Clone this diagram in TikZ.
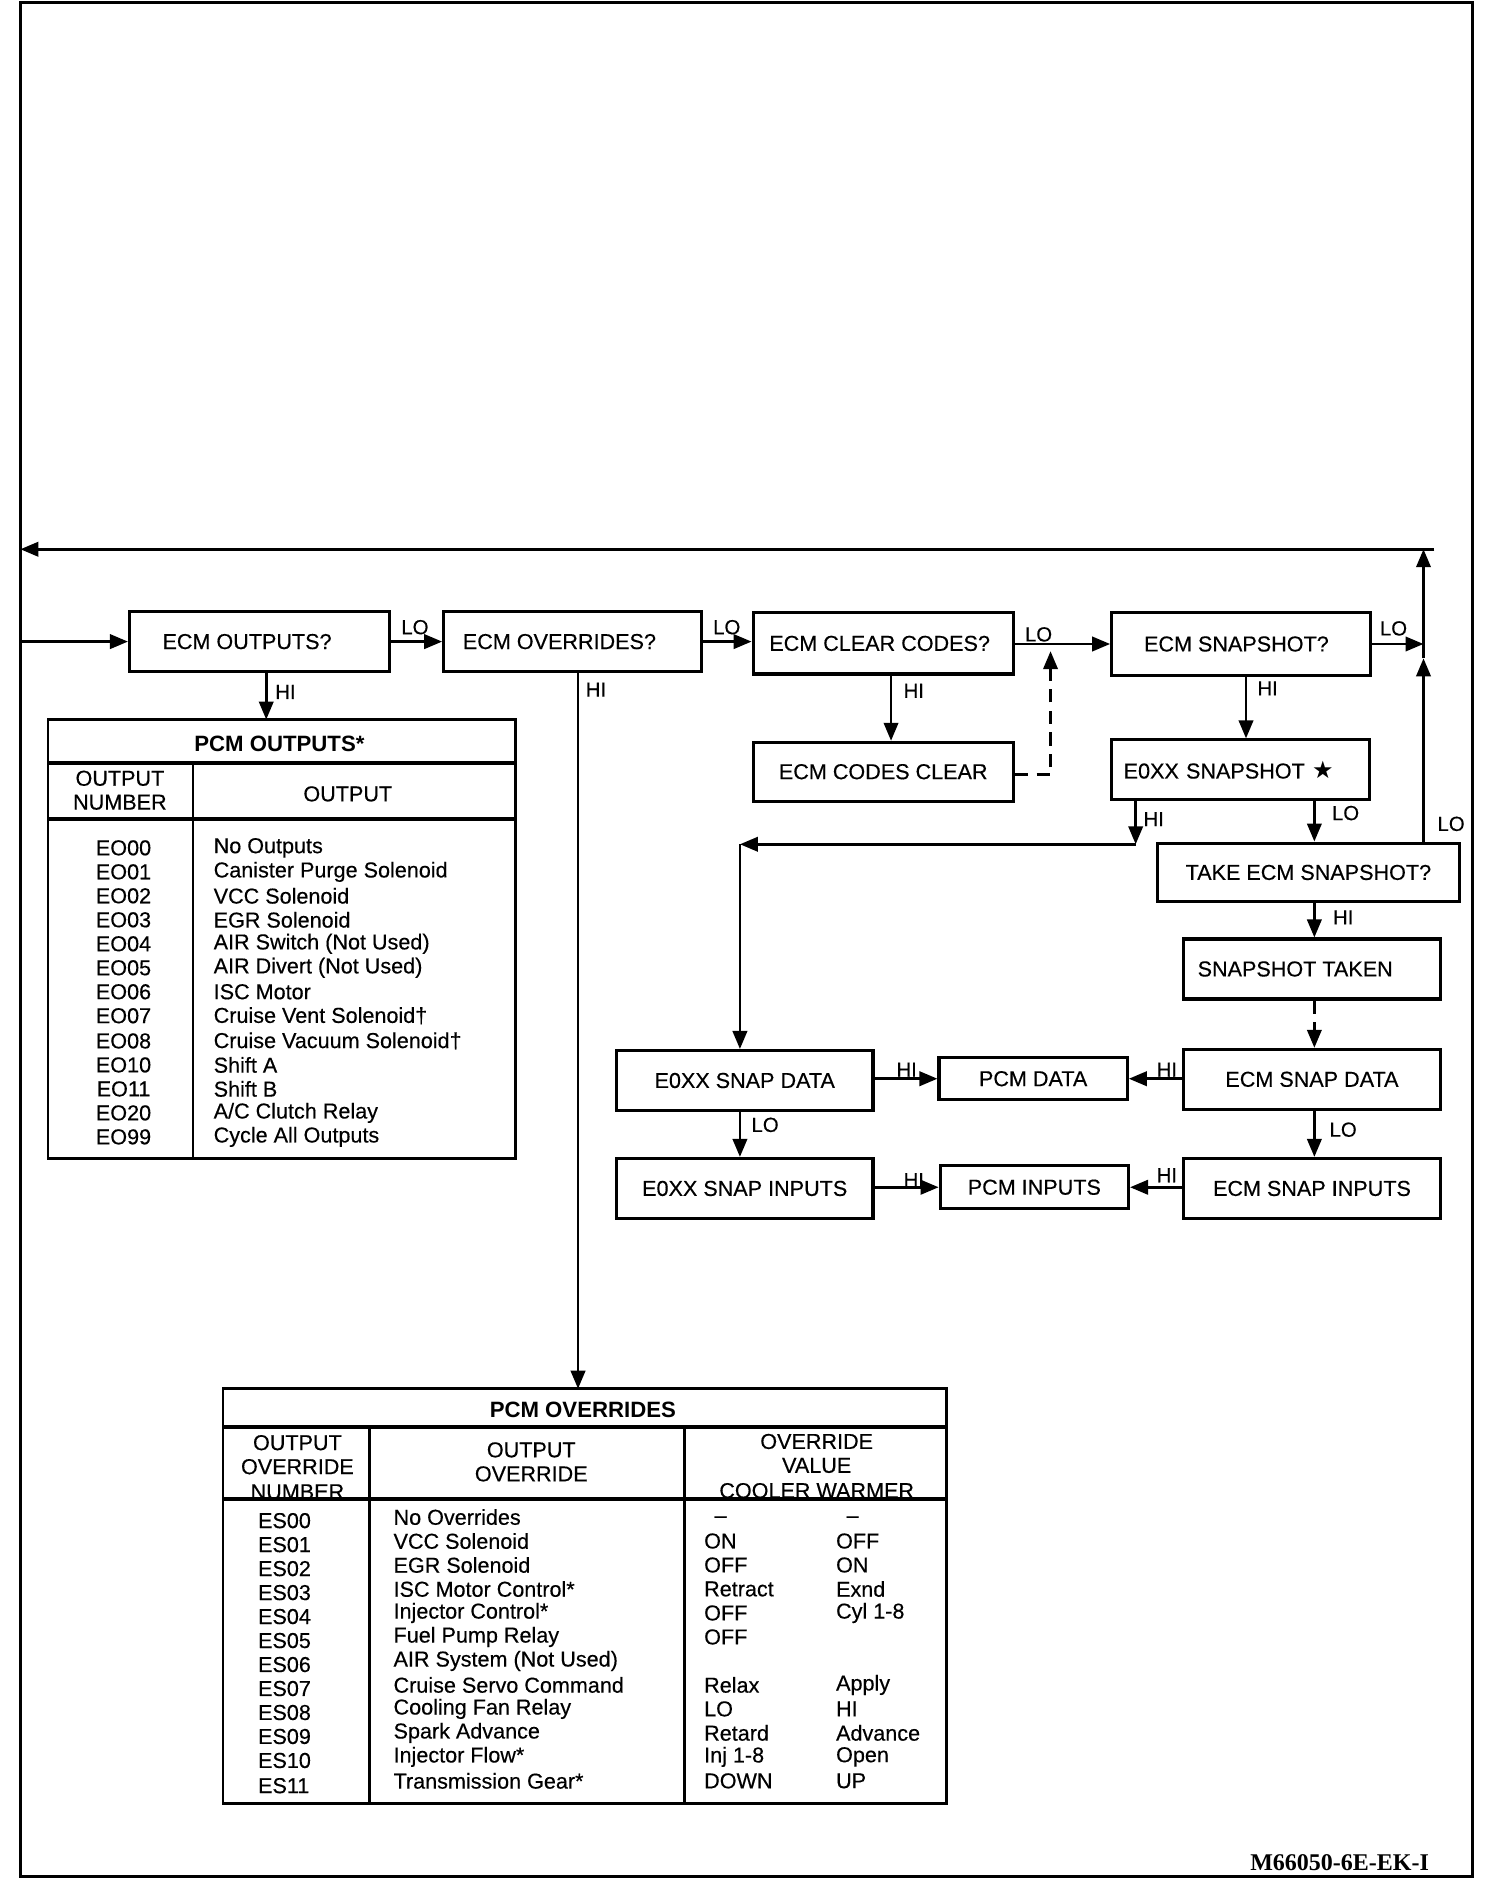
\documentclass[tikz,border=0pt]{standalone}
\usepackage{fontspec}
\setmainfont{Liberation Sans}[UprightFeatures={FakeBold=0.35}]
\newfontfamily\serifbf{Liberation Serif}
\newfontfamily\dejavu{DejaVu Sans}
\usetikzlibrary{arrows.meta}
\newcommand\bxfont{\fontsize{18}{20}\selectfont}
\newcommand\lbfont{\fontsize{17}{19}\selectfont}
\newcommand\tbfont{\fontsize{18}{20}\selectfont}
\newcommand\ttlfont{\fontsize{18.5}{20}\selectfont\bfseries}
\begin{document}
\begin{tikzpicture}[x=1pt,y=-1pt,
  box/.style={draw, line width=2.6pt, inner sep=0pt, font=\bxfont},
  conn/.style={line width=2.2pt, -{Triangle[length=15pt,width=12pt]}},
  plain/.style={line width=2.2pt},
  dconn/.style={line width=2.2pt, dash pattern=on 11pt off 7pt, -{Triangle[length=15pt,width=12pt]}},
  lab/.style={font=\lbfont, inner sep=0pt},
  tcell/.style={font=\tbfont, inner sep=0pt},
  tline/.style={line width=2.2pt},
  tthick/.style={line width=3pt}]
\useasboundingbox (0,0) rectangle (1254,1566);
\fill[white] (0,0) rectangle (1254,1566);
% outer frame
\draw[line width=2.6pt] (17,2) rectangle (1228,1565);

% boxes
\node[box, minimum width=217, minimum height=50] (eo)  at (216.5,535) {ECM OUTPUTS?\kern21pt};
\node[box, minimum width=215, minimum height=50] (eov) at (477.5,535) {ECM OVERRIDES?\kern22pt};
\node[box, minimum width=217, minimum height=51] (ecc) at (736.5,536.5) {ECM CLEAR CODES?\kern6pt};
\node[box, minimum width=216, minimum height=52] (esn) at (1035,537) {ECM SNAPSHOT?\kern8pt};
\node[box, minimum width=217, minimum height=49] (ecl) at (736.5,643.5) {ECM CODES CLEAR};
\node[box, minimum width=215, minimum height=50, text width=195, align=left] (e0s) at (1034.5,642) {E0XX SNAPSHOT {\dejavu\fontsize{20}{20}\selectfont ★}};
\node[box, minimum width=252, minimum height=49] (tes) at (1091,727.5) {TAKE ECM SNAPSHOT?};
\node[box, minimum width=214, minimum height=50] (st)  at (1094,808) {SNAPSHOT TAKEN\kern28pt};
\node[box, minimum width=214, minimum height=50] (esd) at (621,901) {E0XX SNAP DATA};
\node[box, minimum width=157, minimum height=35] (pd)  at (861.5,899.5) {PCM DATA};
\node[box, minimum width=214, minimum height=50] (ecsd) at (1094,900) {ECM SNAP DATA};
\node[box, minimum width=214, minimum height=50] (esi) at (621,991) {E0XX SNAP INPUTS};
\node[box, minimum width=157, minimum height=36] (pi)  at (862.5,990) {PCM INPUTS};
\node[box, minimum width=214, minimum height=50] (ecsi) at (1094,991) {ECM SNAP INPUTS};

% coordinates
\coordinate (fl) at (17,535);
\coordinate (jr) at (1187,537);
\coordinate (vtop) at (1187,458);
\coordinate (vmid) at (1187,549);
\coordinate (htr) at (1196,458);
\coordinate (htl) at (17,458);
\coordinate (t1top) at (222,600);
\coordinate (t2top) at (482,1158);
\coordinate (dsh1) at (876,646);
\coordinate (dsh2) at (876,543);
\coordinate (hb1) at (947,704);
\coordinate (hb2) at (617,704);

% main row connectors
\draw[conn] (fl) -- (eo.west);
\draw[conn] (eo.east) -- (eov.west);
\draw[conn] (eov.east) -- (ecc.west |- eov.east);
\draw[conn] (ecc.east |- esn.west) -- (esn.west);
\draw[conn] (esn.east) -- (jr);
% right return line
\draw[conn] (tes.north -| jr) -- (vmid);
\draw[conn] (vmid) -- (vtop);
\draw[conn] (htr) -- (htl);
% downward connectors
\draw[conn] (eo.south -| t1top) -- (t1top);
\draw[conn] (eov.south -| t2top) -- (t2top);
\draw[conn] (ecc.south -| 743,0) -- (ecl.north -| 743,0);
\draw[dconn] (ecl.east |- dsh1) -- (dsh1) -- (dsh2);
\draw[conn] (esn.south -| 1039,0) -- (e0s.north -| 1039,0);
\draw[conn] (e0s.south -| hb1) -- (hb1);
\draw[conn] (hb1) -- (hb2);
\draw[conn] (hb2) -- (esd.north -| hb2);
\draw[conn] (e0s.south -| 1096,0) -- (tes.north -| 1096,0);
\draw[conn] (tes.south -| 1096,0) -- (st.north -| 1096,0);
\draw[dconn] (st.south -| 1096,0) -- (ecsd.north -| 1096,0);
\draw[conn] (esd.east |- pd.west) -- (pd.west);
\draw[conn] (ecsd.west |- pd.east) -- (pd.east);
\draw[conn] (esd.south -| 617,0) -- (esi.north -| 617,0);
\draw[conn] (ecsd.south -| 1096,0) -- (ecsi.north -| 1096,0);
\draw[conn] (esi.east |- pi.west) -- (pi.west);
\draw[conn] (ecsi.west |- pi.east) -- (pi.east);

% labels
\node[lab] (l1) at (346,523) {LO};
\node[lab] (l2) at (606,523) {LO};
\node[lab] (l3) at (866,529) {LO};
\node[lab] (l4) at (1162,524) {LO};
\node[lab] (l5) at (238,577) {HI};
\node[lab] (l6) at (497,575) {HI};
\node[lab] (l7) at (762,576) {HI};
\node[lab] (l8) at (1057,574) {HI};
\node[lab] (l9) at (962,683) {HI};
\node[lab] (l10) at (1122,678) {LO};
\node[lab] (l11) at (1210,687) {LO};
\node[lab] (l12) at (1120,765) {HI};
\node[lab] (l13) at (756,892) {HI};
\node[lab] (l14) at (973,892) {HI};
\node[lab] (l15) at (638,938) {LO};
\node[lab] (l16) at (1120,942) {LO};
\node[lab] (l17) at (762,984) {HI};
\node[lab] (l18) at (973,980) {HI};

% PCM OUTPUTS table
\draw[tline] (40,600) rectangle (430,966);
\draw[tthick] (40,636) -- (430,636);
\draw[tthick] (40,683) -- (430,683);
\draw[tline] (161,636) -- (161,966);
\node[tcell, font=\ttlfont] (t1t) at (233,620) {PCM OUTPUTS*};
\node[tcell] (t1h1) at (100,649) {OUTPUT};
\node[tcell] (t1h2) at (100,669) {NUMBER};
\node[tcell] (t1h3) at (290,662) {OUTPUT};
\node[tcell] (a0) at (103,707) {EO00};  \node[tcell, anchor=west] (b0) at (178,707) {No Outputs};
\node[tcell] (a1) at (103,727) {EO01};  \node[tcell, anchor=west] (b1) at (178,727) {Canister Purge Solenoid};
\node[tcell] (a2) at (103,747) {EO02};  \node[tcell, anchor=west] (b2) at (178,747) {VCC Solenoid};
\node[tcell] (a3) at (103,767) {EO03};  \node[tcell, anchor=west] (b3) at (178,767) {EGR Solenoid};
\node[tcell] (a4) at (103,787) {EO04};  \node[tcell, anchor=west] (b4) at (178,787) {AIR Switch (Not Used)};
\node[tcell] (a5) at (103,807) {EO05};  \node[tcell, anchor=west] (b5) at (178,807) {AIR Divert (Not Used)};
\node[tcell] (a6) at (103,827) {EO06};  \node[tcell, anchor=west] (b6) at (178,827) {ISC Motor};
\node[tcell] (a7) at (103,847) {EO07};  \node[tcell, anchor=west] (b7) at (178,847) {Cruise Vent Solenoid†};
\node[tcell] (a8) at (103,868) {EO08};  \node[tcell, anchor=west] (b8) at (178,868) {Cruise Vacuum Solenoid†};
\node[tcell] (a9) at (103,888) {EO10};  \node[tcell, anchor=west] (b9) at (178,888) {Shift A};
\node[tcell] (a10) at (103,908) {EO11}; \node[tcell, anchor=west] (b10) at (178,908) {Shift B};
\node[tcell] (a11) at (103,928) {EO20}; \node[tcell, anchor=west] (b11) at (178,928) {A/C Clutch Relay};
\node[tcell] (a12) at (103,948) {EO99}; \node[tcell, anchor=west] (b12) at (178,948) {Cycle All Outputs};

% PCM OVERRIDES table
\node[tcell] (t2h1) at (248,1203) {OUTPUT};
\node[tcell] (t2h2) at (248,1223) {OVERRIDE};
\node[tcell] (t2h3) at (248,1244) {NUMBER};
\node[tcell] (t2h4) at (443,1209) {OUTPUT};
\node[tcell] (t2h5) at (443,1229) {OVERRIDE};
\node[tcell] (t2h6) at (681,1202) {OVERRIDE};
\node[tcell] (t2h7) at (681,1222) {VALUE};
\node[tcell] (t2h8) at (681,1243) {COOLER WARMER};
\draw[tline] (186,1158) rectangle (789,1504);
\draw[tthick] (186,1190) -- (789,1190);
\draw[tthick] (186,1250) -- (789,1250);
\draw[tline] (308,1190) -- (308,1504);
\draw[tline] (571,1190) -- (571,1504);
\node[tcell, font=\ttlfont] (t2t) at (486,1176) {PCM OVERRIDES};

\node[tcell, anchor=west] (n0) at (215,1268) {ES00};  \node[tcell, anchor=west] (o0) at (328,1265) {No Overrides};
\node[tcell] (c0) at (601,1267) {–}; \node[tcell] (w0) at (711,1267) {–};
\node[tcell, anchor=west] (n1) at (215,1288) {ES01};  \node[tcell, anchor=west] (o1) at (328,1285) {VCC Solenoid};
\node[tcell, anchor=west] (c1) at (587,1285) {ON}; \node[tcell, anchor=west] (w1) at (697,1285) {OFF};
\node[tcell, anchor=west] (n2) at (215,1308) {ES02};  \node[tcell, anchor=west] (o2) at (328,1305) {EGR Solenoid};
\node[tcell, anchor=west] (c2) at (587,1305) {OFF}; \node[tcell, anchor=west] (w2) at (697,1305) {ON};
\node[tcell, anchor=west] (n3) at (215,1328) {ES03};  \node[tcell, anchor=west] (o3) at (328,1325) {ISC Motor Control*};
\node[tcell, anchor=west] (c3) at (587,1325) {Retract}; \node[tcell, anchor=west] (w3) at (697,1325) {Exnd};
\node[tcell, anchor=west] (n4) at (215,1348) {ES04};  \node[tcell, anchor=west] (o4) at (328,1345) {Injector Control*};
\node[tcell, anchor=west] (c4) at (587,1345) {OFF}; \node[tcell, anchor=west] (w4) at (697,1345) {Cyl 1-8};
\node[tcell, anchor=west] (n5) at (215,1368) {ES05};  \node[tcell, anchor=west] (o5) at (328,1365) {Fuel Pump Relay};
\node[tcell, anchor=west] (c5) at (587,1365) {OFF};
\node[tcell, anchor=west] (n6) at (215,1388) {ES06};  \node[tcell, anchor=west] (o6) at (328,1385) {AIR System (Not Used)};
\node[tcell, anchor=west] (n7) at (215,1408) {ES07};  \node[tcell, anchor=west] (o7) at (328,1405) {Cruise Servo Command};
\node[tcell, anchor=west] (c7) at (587,1405) {Relax}; \node[tcell, anchor=west] (w7) at (697,1405) {Apply};
\node[tcell, anchor=west] (n8) at (215,1428) {ES08};  \node[tcell, anchor=west] (o8) at (328,1425) {Cooling Fan Relay};
\node[tcell, anchor=west] (c8) at (587,1425) {LO}; \node[tcell, anchor=west] (w8) at (697,1425) {HI};
\node[tcell, anchor=west] (n9) at (215,1448) {ES09};  \node[tcell, anchor=west] (o9) at (328,1445) {Spark Advance};
\node[tcell, anchor=west] (c9) at (587,1445) {Retard}; \node[tcell, anchor=west] (w9) at (697,1445) {Advance};
\node[tcell, anchor=west] (n10) at (215,1468) {ES10}; \node[tcell, anchor=west] (o10) at (328,1465) {Injector Flow*};
\node[tcell, anchor=west] (c10) at (587,1465) {Inj 1-8}; \node[tcell, anchor=west] (w10) at (697,1465) {Open};
\node[tcell, anchor=west] (n11) at (215,1489) {ES11}; \node[tcell, anchor=west] (o11) at (328,1485) {Transmission Gear*};
\node[tcell, anchor=west] (c11) at (587,1485) {DOWN}; \node[tcell, anchor=west] (w11) at (697,1485) {UP};

% figure id
\node[inner sep=0pt, font=\serifbf\fontsize{20}{22}\selectfont\bfseries] (fid) at (1117,1553) {M66050-6E-EK-I};
\end{tikzpicture}
\end{document}
